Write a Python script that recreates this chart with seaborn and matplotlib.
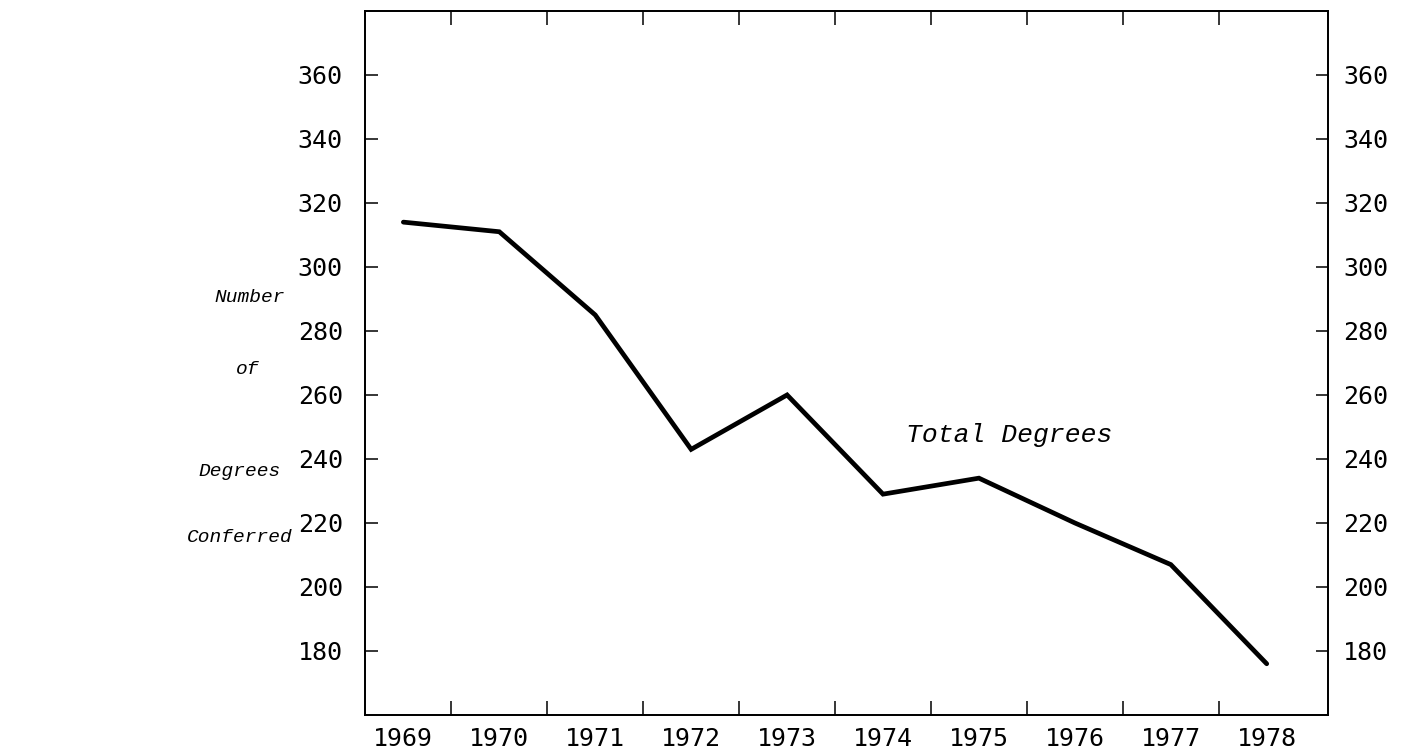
"""Total degrees conferred 1969-1978, typewriter-style line chart."""

import matplotlib
matplotlib.use('Agg')
import matplotlib.pyplot as plt
import seaborn as sns
import pandas as pd
import numpy as np

# data
years = [1969, 1970, 1971, 1972, 1973, 1974, 1975, 1976, 1977, 1978]
total_degrees = [314, 311, 285, 243, 260, 229, 234, 220, 207, 176]
y_ticks = [180, 200, 220, 240, 260, 280, 300, 320, 340, 360]
ylabel_lines = ["Number", "of", "Degrees", "Conferred"]
series_label = "Total Degrees"

df = pd.DataFrame({"year": years, "degrees": total_degrees})

sns.set_style("ticks")
plt.rcParams['font.family'] = ['DejaVu Sans Mono', 'DejaVu Sans']
plt.rcParams['text.color'] = 'black'
plt.rcParams['xtick.color'] = 'black'
plt.rcParams['ytick.color'] = 'black'

typewriter_italic = ['Liberation Mono', 'DejaVu Sans Mono']

fig = plt.figure(figsize=(14.06, 7.53), dpi=100)
ax = fig.add_axes([0.2596, 0.0505, 0.685, 0.935])

sns.lineplot(data=df, x="year", y="degrees", ax=ax, color="black",
             linewidth=3.4, solid_joinstyle="miter")

ax.set_xlim(1968.6, 1978.64)
ax.set_ylim(160, 380)

# year labels centred, tick marks between years
ax.set_xticks(years)
ax.set_xticklabels([str(y) for y in years])
ax.set_xticks(np.array(years[:-1]) + 0.5, minor=True)
ax.tick_params(axis="x", which="major", length=0, pad=9, labelsize=18)
ax.tick_params(axis="x", which="minor", direction="in", length=10,
               width=1.1, top=True, bottom=True)

# left scale
ax.set_yticks(y_ticks)
ax.tick_params(axis="y", which="major", direction="in", length=9, width=1.1,
               left=True, right=False, pad=16, labelsize=18)

# right scale, same numbers
ax2 = ax.twinx()
ax2.set_ylim(ax.get_ylim())
ax2.set_yticks(y_ticks)
ax2.tick_params(axis="y", which="major", direction="in", length=9, width=1.1,
                pad=11, labelsize=18)

ax.set_xlabel("")
ax.set_ylabel("")
for a in (ax, ax2):
    for s in a.spines.values():
        s.set_visible(True)
        s.set_linewidth(1.3)
        s.set_color("black")

ax.text(1975.32, 247.5, series_label, fontsize=19, style="italic",
        family=typewriter_italic, ha="center", va="center")

# stacked y-axis caption at the left
label_pos = [(250, 297), (248, 370), (240, 472), (240, 538)]
for txt, (px, py) in zip(ylabel_lines, label_pos):
    fig.text(px / 1406, 1 - py / 753, txt, fontsize=14, style="italic",
             family=typewriter_italic, ha="center", va="center")

fig.savefig("out.png", dpi=100, facecolor="white")
